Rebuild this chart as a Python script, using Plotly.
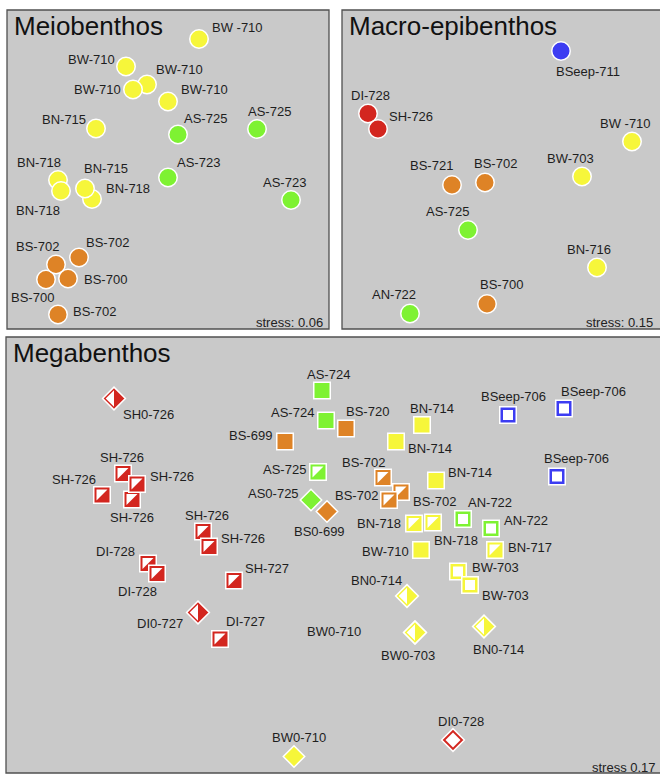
import plotly.graph_objects as go

# ---------------- data (NMDS coordinates) ----------------
meio_labels = ["BW -710", "BW-710", "BW-710", "BW-710", "BW-710", "BN-715", "AS-725", "AS-725",
               "AS-723", "AS-723", "BN-718", "BN-718", "BN-718", "BN-715", "BS-702", "BS-700",
               "BS-700", "BS-702", "BS-702"]
meio_x = [0.31, -0.42, -0.21, -0.35, 0.00, -0.72, 0.10, 0.89, 0.00, 1.23, -1.10, -1.07, -0.76, -0.83,
          -0.89, -1.22, -1.00, -1.12, -1.10]
meio_y = [1.315, 1.04, 0.86, 0.81, 0.69, 0.42, 0.36, 0.415, -0.07, -0.295, -0.095, -0.205, -0.285,
          -0.18, -0.87, -1.09, -1.08, -0.94, -1.44]
meio_stress = "stress: 0.06"

macro_labels = ["BSeep-711", "DI-728", "SH-726", "BW -710", "BW-703", "BS-721", "BS-702", "AS-725",
                "BN-716", "BS-700", "AN-722"]
macro_x = [0.60, -1.33, -1.23, 1.31, 0.81, -0.49, -0.16, -0.33, 0.96, -0.14, -0.91]
macro_y = [1.195, 0.57, 0.415, 0.29, -0.06, -0.145, -0.12, -0.595, -0.97, -1.335, -1.43]
macro_stress = "stress: 0.15"

mega_labels = ["SH0-726", "SH-726", "SH-726", "SH-726", "SH-726", "SH-726", "SH-726", "DI-728",
               "DI-728", "SH-727", "DI0-727", "DI-727", "BW0-710", "AS-724", "AS-724", "BS-720",
               "BS-699", "AS-725", "AS0-725", "BS0-699", "BN-714", "BN-714", "BS-702", "BS-702",
               "BS-702", "BN-714", "AN-722", "AN-722", "BN-718", "BN-718", "BW-710", "BN-717",
               "BW-703", "BW-703", "BN0-714", "BW0-710", "BW0-703", "BN0-714", "DI0-728",
               "BSeep-706", "BSeep-706", "BSeep-706"]
mega_x = [-2.17, -2.08, -1.99, -1.94, -2.29, -1.28, -1.22, -1.83, -1.74, -0.97, -1.33, -1.11, -0.37,
          -0.09, -0.05, 0.15, -0.46, -0.13, -0.20, -0.04, 0.91, 0.65, 0.52, 0.70, 0.58, 1.05, 1.32,
          1.60, 0.83, 1.02, 0.90, 1.64, 1.27, 1.39, 0.76, 0.84, 0.84, 1.53, 1.22, 1.77, 2.33, 2.26]
mega_y = [1.58, 0.83, 0.57, 0.725, 0.615, 0.25, 0.10, -0.07, -0.17, -0.24, -0.56, -0.825, -2.00,
          1.66, 1.36, 1.28, 1.15, 0.845, 0.565, 0.45, 1.315, 1.15, 0.79, 0.645, 0.565, 0.76, 0.375,
          0.28, 0.33, 0.34, 0.065, 0.065, -0.15, -0.285, -0.395, -0.76, -0.76, -0.70, -1.835,
          1.415, 1.48, 0.80]
# sample kind: sq = square, dia = diamond; -half / -open variants
mega_kind = ["dia-half", "sq-half", "sq-half", "sq-half", "sq-half", "sq-half", "sq-half", "sq-half",
             "sq-half", "sq-half", "dia-half", "sq-half", "dia", "sq", "sq", "sq", "sq", "sq-half",
             "dia", "dia", "sq", "sq", "sq-half", "sq-half", "sq-half", "sq", "sq-open", "sq-open",
             "sq-half", "sq-half", "sq", "sq-half", "sq-open", "sq-open", "dia-half", "dia-half",
             "dia-half", "dia-half", "dia-open", "sq-open", "sq-open", "sq-open"]
mega_stress = "stress 0.17"

# ---------------- layout / styling ----------------
W, H = 660, 776
group_colors = {"BW": "#f6f63a", "BN": "#f6f63a", "AS": "#7ef232", "AN": "#7ef232",
                "BS": "#de8326", "SH": "#d3261f", "DI": "#d3261f", "BSeep": "#3c3cf2"}


def color_of(label):
    return group_colors[label.split("-")[0].strip().rstrip("0")]


# label offsets in pixels (right, down) from each marker
meio_off = [(38, -11), (-35, -7), (32, -15), (-36, 0), (36, -12), (-32, -9), (27, -16), (12, -17),
            (30, -15), (-7, -17), (-19, -17), (-23, 20), (36, -10), (21, -20), (28, -15), (-14, 18),
            (37, 1), (-19, -18), (36, -3)]
macro_off = [(27, 21), (2, -18), (33, -12), (-7, -18), (-12, -18), (-21, -19), (10, -19), (-21, -18),
             (-8, -18), (14, -19), (-16, -19)]
mega_off = [(34, 16), (-1, -16), (0, 18), (35, -8), (-28, -16), (4, -16), (34, -8), (-33, -12),
            (-20, 18), (33, -12), (-38, 11), (25, -18), (5, -19), (6, -16), (-34, -8), (21, -17),
            (-35, -6), (-34, -3), (-38, -7), (-8, 20), (10, -17), (34, 7), (-20, -15), (33, 9),
            (-33, -5), (34, -8), (27, -17), (35, -8), (-35, 0), (23, 18), (-36, 1), (35, -3),
            (37, -4), (35, 10), (-31, -16), (-81, -1), (-7, 23), (14, 23), (8, -19), (5, -19),
            (29, -17), (19, -18)]

# panel boxes in pixels (left, top, right, bottom) and axis ranges
panels = {
    "meio": dict(box=(7, 10, 329, 329), xr=(-1.61, 1.61), yr=(-1.585, 1.605), ax=("x", "y"),
                 title="Meiobenthos"),
    "macro": dict(box=(342, 10, 660, 329), xr=(-1.59, 1.59), yr=(-1.585, 1.605), ax=("x2", "y2"),
                  title="Macro-epibenthos"),
    "mega": dict(box=(6, 337, 660, 773), xr=(-3.25, 3.29), yr=(-2.165, 2.195), ax=("x3", "y3"),
                 title="Megabenthos"),
}

FONT = "Liberation Sans, Arial, Helvetica, sans-serif"
label_font = dict(family=FONT, size=13, color="#1e1e1e")

fig = go.Figure()
layout = dict(width=W, height=H, margin=dict(l=0, r=0, t=0, b=0, pad=0),
              paper_bgcolor="white", plot_bgcolor="rgba(0,0,0,0)", showlegend=False,
              shapes=[], annotations=[])

for i, (key, p) in enumerate(panels.items()):
    l, t, r, b = p["box"]
    n = "" if i == 0 else str(i + 1)
    axis_common = dict(showgrid=False, zeroline=False, showticklabels=False, ticks="",
                       showline=False, fixedrange=True)
    layout["xaxis" + n] = dict(domain=[l / W, min(r / W, 1.0)], range=list(p["xr"]),
                               anchor="y" + n, **axis_common)
    layout["yaxis" + n] = dict(domain=[1 - b / H, 1 - t / H], range=list(p["yr"]),
                               anchor="x" + n, **axis_common)
    x1 = r / W if r < W else 1.01
    layout["shapes"].append(dict(type="rect", xref="paper", yref="paper", layer="below",
                                 x0=l / W, x1=x1, y0=1 - b / H, y1=1 - t / H,
                                 fillcolor="#c9c9c9", line=dict(color="#505050", width=1.3)))
    layout["annotations"].append(dict(xref="paper", yref="paper", x=(l + 5) / W, y=1 - (t + 16.5) / H,
                                      xanchor="left", yanchor="middle", showarrow=False,
                                      text=p["title"], font=dict(family=FONT, size=26, color="#111")))


def px_per_unit(p):
    l, t, r, b = p["box"]
    r = min(r, W)
    return (r - l) / (p["xr"][1] - p["xr"][0]), (b - t) / (p["yr"][1] - p["yr"][0])


# ---- circle panels ----
for key, labels, xs, ys, offs, stress in [("meio", meio_labels, meio_x, meio_y, meio_off, meio_stress),
                                          ("macro", macro_labels, macro_x, macro_y, macro_off, macro_stress)]:
    p = panels[key]
    xa, ya = p["ax"]
    fig.add_trace(go.Scatter(x=xs, y=ys, mode="markers", xaxis=xa, yaxis=ya, hoverinfo="text",
                             text=labels,
                             marker=dict(symbol="circle", size=18.5, color=[color_of(s) for s in labels],
                                         line=dict(color="white", width=1.5))))
    for s, x, y, (dx, dy) in zip(labels, xs, ys, offs):
        layout["annotations"].append(dict(x=x, y=y, xref=xa, yref=ya, text=s, showarrow=False,
                                          xshift=dx, yshift=-dy, xanchor="center", yanchor="middle",
                                          font=label_font))
    l, t, r, b = p["box"]
    layout["annotations"].append(dict(xref="paper", yref="paper", x=(min(r, W - 1) - 4) / W,
                                      y=1 - (b - 6.5) / H, xanchor="right", yanchor="middle",
                                      showarrow=False, text=stress,
                                      font=dict(family=FONT, size=13, color="#222")))

# ---- megabenthos composite markers ----
p = panels["mega"]
xa, ya = p["ax"]
ppx, ppy = px_per_unit(p)
SQ, DIA = 16.5, 17.5


def add(x, y, **marker):
    fig.add_trace(go.Scatter(x=[x], y=[y], mode="markers", xaxis=xa, yaxis=ya, hoverinfo="skip",
                             marker=marker))


for s, x, y, kind, (dx, dy) in zip(mega_labels, mega_x, mega_y, mega_kind, mega_off):
    c = color_of(s)
    if kind.startswith("sq"):
        add(x, y, symbol="square", size=SQ, color=c, line=dict(color="white", width=1.5))
        if kind == "sq-half":
            a = SQ / 2 - 2.75                    # half width of the white interior
            size = 4 * a / 1.8                   # triangle-nw legs = 1.8 * r
            shift = a / 3                        # centroid of the corner triangle
            add(x - shift / ppx, y + shift / ppy, symbol="triangle-nw", size=size, color="white",
                line=dict(width=0))
        elif kind == "sq-open":
            add(x, y, symbol="square", size=10, color="white", line=dict(width=0))
    else:
        base = DIA if kind != "dia" else 16.5
        add(x, y, symbol="diamond", size=base, color=c, line=dict(color="white", width=1.5))
        if kind == "dia-half":
            bh = 8.3                             # half diagonal of the white interior
            r = bh / 1.2728
            add(x - (bh / 3) / ppx, y, symbol="triangle-nw", angle=-45, size=2 * r, color="white",
                line=dict(width=0))
        elif kind == "dia-open":
            add(x, y, symbol="diamond", size=11.5, color="white", line=dict(width=0))
    layout["annotations"].append(dict(x=x, y=y, xref=xa, yref=ya, text=s, showarrow=False,
                                      xshift=dx, yshift=-dy, xanchor="center", yanchor="middle",
                                      font=label_font))

l, t, r, b = p["box"]
layout["annotations"].append(dict(xref="paper", yref="paper", x=658 / W, y=1 - (b - 5.5) / H,
                                  xanchor="right", yanchor="middle", showarrow=False, text=mega_stress,
                                  font=dict(family=FONT, size=13, color="#222")))

fig.update_layout(**layout)
fig.write_html("out.html", config=dict(displayModeBar=False),
               post_script="document.body.style.margin='0';document.body.style.padding='0';"
                           "document.body.style.overflow='hidden';")
